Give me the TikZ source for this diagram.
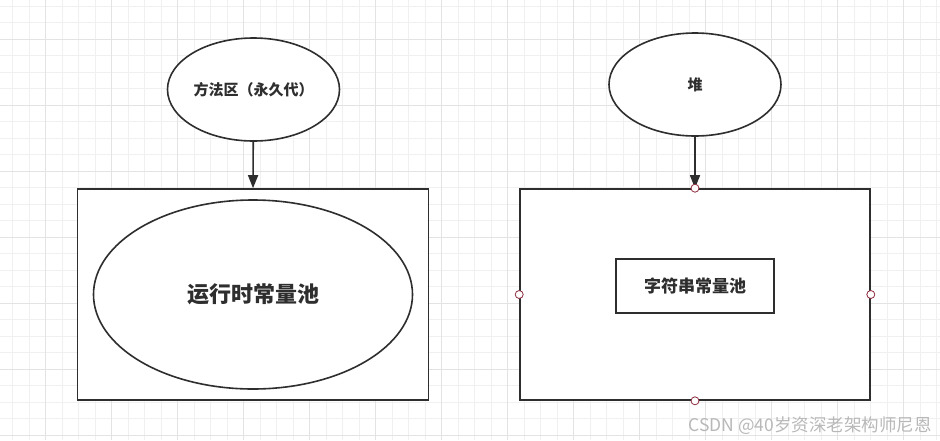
\documentclass[tikz,border=0pt]{standalone}
\usepackage{fontspec}
\setmainfont{Noto Sans CJK SC}
\usetikzlibrary{arrows.meta,positioning,shapes.geometric}

\definecolor{inkgray}{HTML}{2E2E2E}
\definecolor{gridminor}{HTML}{F0F0F0}
\definecolor{gridmajor}{HTML}{E3E3E3}
\definecolor{handlered}{HTML}{8C2A3C}
\definecolor{markgray}{HTML}{B8B8B8}

\begin{document}
\begin{tikzpicture}[x=1pt,y=-1pt,->,>={Triangle[length=13pt,width=10pt]},draw=inkgray,line width=1.6pt]
    \tikzstyle{area}=[ellipse,draw=inkgray,fill=white,inner sep=0pt,font=\bfseries\fontsize{15}{18}\selectfont,text=inkgray]
    \tikzstyle{region}=[rectangle,draw=inkgray,fill=white,inner sep=0pt]
    \tikzstyle{pool}=[draw=inkgray,fill=white,inner sep=0pt,text=inkgray]
    \tikzstyle{handle}=[circle,draw=handlered,fill=white,line width=0.8pt,minimum size=8pt,inner sep=0pt]

    % Background and grid
    \fill[white] (0,0) rectangle (940,440);
    \useasboundingbox (0,0) rectangle (940,440);
    \foreach \i in {0,...,56}
        \draw[-,gridminor,line width=1pt] (12.7+16.5*\i,0) -- (12.7+16.5*\i,440);
    \foreach \j in {0,...,26}
        \draw[-,gridminor,line width=1pt] (0,6.1+16.5*\j) -- (940,6.1+16.5*\j);
    \foreach \i in {0,...,13}
        \draw[-,gridmajor,line width=1pt] (45.7+66*\i,0) -- (45.7+66*\i,440);
    \foreach \j in {0,...,6}
        \draw[-,gridmajor,line width=1pt] (0,39+66*\j) -- (940,39+66*\j);

    % Method area side
    \node[area,minimum width=172pt,minimum height=103pt] (method) at (253.5,89.5) {方法区（永久代）};
    \node[region,minimum width=351pt,minimum height=211pt] (method box) at (253,294.5) {};
    \node[area,pool,minimum width=319pt,minimum height=189pt,font=\bfseries\fontsize{22}{26}\selectfont] (runtime pool) at (253,294.5) {运行时常量池};

    % Heap side
    \node[area,minimum width=172pt,minimum height=103pt] (heap) at (695,84.5) {堆};
    \node[region,minimum width=350pt,minimum height=211pt] (heap box) at (695,294.5) {};
    \node[pool,rectangle,minimum width=158pt,minimum height=54pt,font=\bfseries\fontsize{17}{20}\selectfont] (string pool) at (695,286) {字符串常量池};

    % Connect each area with its box
    \path (method) edge (method box.north);
    \path (heap) edge (heap box.north);

    % Selection handles on the heap box
    \foreach \side in {north,south,east,west}
        \node[handle] (handle-\side) at (heap box.\side) {};

    % Watermark
    \node[text=markgray,font=\fontsize{17.5}{20}\selectfont,anchor=east] (mark) at (936,426) {CSDN @40岁资深老架构师尼恩};
\end{tikzpicture}
\end{document}
